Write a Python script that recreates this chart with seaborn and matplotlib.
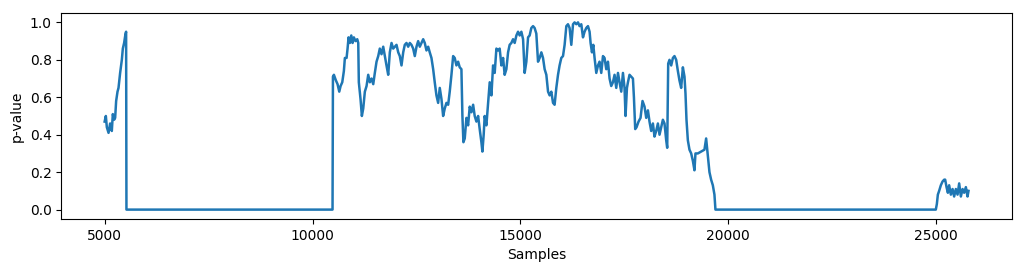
import matplotlib
matplotlib.use("Agg")
import matplotlib.pyplot as plt
import seaborn as sns
import pandas as pd

# Segment 1: early rise before the first drop
seg1_samples = [4995, 5024, 5048, 5089, 5127, 5168, 5192, 5224, 5248, 5272, 5305,
                5329, 5368, 5409, 5433, 5464, 5498, 5512]
seg1_pvalues = [0.47, 0.50, 0.44, 0.41, 0.46, 0.42, 0.51, 0.48, 0.49, 0.58, 0.63,
                0.65, 0.73, 0.80, 0.86, 0.89, 0.94, 0.95]

# Zero plateau 1
zero1_samples = [5520, 10480]
zero1_pvalues = [0.0, 0.0]

# Segment 2: long noisy section
seg2_samples = [
    10490, 10513, 10561, 10601, 10642, 10674, 10714, 10753, 10777, 10818, 10842, 10866,
    10897, 10931, 10962, 10993, 11034, 11075, 11099, 11113, 11154, 11186, 11219, 11258,
    11299, 11339, 11378, 11419, 11460, 11498, 11539, 11580, 11618, 11659, 11700, 11739,
    11779, 11820, 11859, 11900, 11940, 11979, 12020, 12061, 12099, 12140, 12181, 12219,
    12260, 12301, 12340, 12380, 12421, 12460, 12501, 12541, 12580, 12621, 12662, 12700,
    12741, 12782, 12820, 12861, 12902, 12940, 12981, 13022, 13061, 13102, 13142, 13181,
    13222, 13263, 13301, 13342, 13383, 13421, 13462, 13503, 13541, 13582, 13606, 13630,
    13662, 13703, 13743, 13782, 13823, 13864, 13902, 13943, 13984, 14022, 14063, 14087,
    14118, 14142, 14183, 14224, 14263, 14304, 14344, 14383, 14424, 14465, 14503, 14544,
    14585, 14623, 14664, 14705, 14743, 14784, 14825, 14864, 14905, 14945, 14984, 15025,
    15066, 15104, 15145, 15186, 15224, 15265, 15306, 15344, 15385, 15426, 15465, 15506,
    15546, 15585, 15626, 15667, 15705, 15746, 15787, 15825, 15866, 15907, 15945, 15986,
    16027, 16066, 16107, 16147, 16186, 16227, 16268, 16306, 16347, 16388, 16426, 16467,
    16508, 16546, 16587, 16628, 16667, 16691, 16724, 16756, 16787, 16828, 16869, 16907,
    16948, 16989, 17027, 17068, 17109, 17148, 17188, 17229, 17268, 17309, 17350, 17388,
    17429, 17470, 17508, 17532, 17566, 17590, 17628, 17669, 17710, 17734, 17765, 17797,
    17845, 17893, 17941, 17989, 18030, 18071, 18109, 18150, 18191, 18229, 18270, 18311,
    18350, 18390, 18431, 18470, 18511, 18535, 18559, 18590, 18631, 18672, 18710, 18751,
    18792, 18830, 18871, 18912, 18951, 18975, 18999, 19032, 19071, 19112, 19153, 19191,
    19215, 19273, 19352, 19431, 19472, 19513, 19552, 19592, 19633, 19672, 19696]
seg2_pvalues = [
    0.71, 0.72, 0.69, 0.67, 0.63, 0.66, 0.68, 0.74, 0.81, 0.81, 0.86, 0.92,
    0.89, 0.93, 0.89, 0.92, 0.90, 0.91, 0.89, 0.68, 0.59, 0.50, 0.54, 0.63,
    0.66, 0.72, 0.68, 0.70, 0.67, 0.73, 0.79, 0.82, 0.86, 0.83, 0.87, 0.82,
    0.77, 0.72, 0.84, 0.89, 0.86, 0.87, 0.88, 0.84, 0.82, 0.77, 0.84, 0.88,
    0.89, 0.87, 0.89, 0.88, 0.86, 0.82, 0.87, 0.90, 0.87, 0.89, 0.91, 0.89,
    0.85, 0.87, 0.84, 0.81, 0.75, 0.68, 0.61, 0.57, 0.65, 0.59, 0.50, 0.54,
    0.57, 0.56, 0.63, 0.72, 0.82, 0.81, 0.77, 0.79, 0.76, 0.75, 0.50, 0.36,
    0.38, 0.49, 0.45, 0.55, 0.52, 0.56, 0.50, 0.47, 0.50, 0.43, 0.36, 0.31,
    0.40, 0.50, 0.45, 0.57, 0.68, 0.61, 0.77, 0.73, 0.86, 0.85, 0.86, 0.77,
    0.81, 0.72, 0.75, 0.84, 0.88, 0.89, 0.91, 0.89, 0.93, 0.95, 0.93, 0.95,
    0.91, 0.73, 0.79, 0.92, 0.93, 0.97, 0.98, 0.97, 0.94, 0.79, 0.81, 0.84,
    0.81, 0.75, 0.72, 0.63, 0.61, 0.63, 0.57, 0.56, 0.65, 0.72, 0.77, 0.81,
    0.82, 0.88, 0.98, 0.99, 0.97, 0.88, 0.99, 1.00, 0.99, 1.00, 0.98, 0.99,
    0.92, 0.95, 0.97, 0.98, 0.95, 0.89, 0.84, 0.88, 0.81, 0.73, 0.77, 0.79,
    0.73, 0.82, 0.81, 0.75, 0.79, 0.70, 0.66, 0.68, 0.72, 0.65, 0.73, 0.68,
    0.63, 0.73, 0.65, 0.50, 0.65, 0.68, 0.72, 0.71, 0.70, 0.60, 0.43, 0.44,
    0.47, 0.49, 0.58, 0.55, 0.49, 0.53, 0.47, 0.42, 0.46, 0.39, 0.42, 0.46,
    0.40, 0.44, 0.48, 0.46, 0.37, 0.33, 0.78, 0.80, 0.77, 0.81, 0.82, 0.80,
    0.74, 0.69, 0.65, 0.76, 0.71, 0.62, 0.48, 0.37, 0.32, 0.30, 0.26, 0.21,
    0.30, 0.30, 0.31, 0.32, 0.38, 0.29, 0.20, 0.16, 0.13, 0.08, 0.0]

# Zero plateau 2
zero2_samples = [19750, 25000]
zero2_pvalues = [0.0, 0.0]

# Segment 3: small bump at the end
seg3_samples = [25025, 25049, 25080, 25121, 25162, 25201, 25225, 25258, 25290, 25321,
                25362, 25403, 25441, 25482, 25523, 25562, 25603, 25644, 25682, 25723,
                25763, 25787]
seg3_pvalues = [0.03, 0.08, 0.10, 0.13, 0.15, 0.16, 0.16, 0.12, 0.09, 0.13,
                0.08, 0.11, 0.07, 0.11, 0.08, 0.14, 0.07, 0.11, 0.09, 0.12,
                0.07, 0.10]

samples = seg1_samples + zero1_samples + seg2_samples + zero2_samples + seg3_samples
pvalues = seg1_pvalues + zero1_pvalues + seg2_pvalues + zero2_pvalues + seg3_pvalues
df = pd.DataFrame({"Samples": samples, "p-value": pvalues})

x_ticks = [5000, 10000, 15000, 20000, 25000]
y_ticks = [0.0, 0.2, 0.4, 0.6, 0.8, 1.0]

fig = plt.figure(figsize=(10.24, 2.71), dpi=100)
ax = fig.add_axes([0.06, 0.192, 0.928, 0.76])
sns.lineplot(data=df, x="Samples", y="p-value", ax=ax, color="#1f77b4",
             linewidth=1.8, sort=False, estimator=None)
ax.set_xticks(x_ticks)
ax.set_yticks(y_ticks)
ax.set_xlabel("Samples")
ax.set_ylabel("p-value")
fig.savefig("out.png", dpi=100)
